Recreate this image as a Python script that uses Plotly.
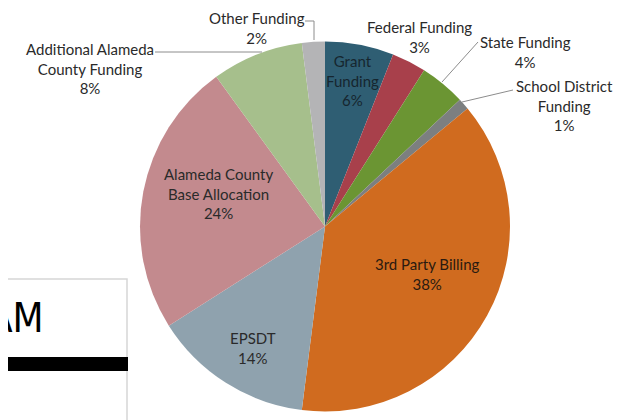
import plotly.graph_objects as go

# the page body has an 8px margin, so the figure is sized and offset for it
OFF = 8
W, H = 636 - OFF, 420 - OFF

# funding sources, clockwise from 12 o'clock
sources = [
    "Grant<br>Funding",
    "Federal Funding",
    "State Funding",
    "School District<br>Funding",
    "3rd Party Billing",
    "EPSDT",
    "Alameda County<br>Base Allocation",
    "Additional Alameda<br>County Funding",
    "Other Funding",
]
shares = [6, 3, 4, 1, 38, 14, 24, 8, 2]
colors = ["#2f5e73", "#a8404b", "#6b9533", "#7c7f80", "#d06b1f",
          "#8fa2ae", "#c38a8e", "#a6bf8c", "#b4b4b6"]

# label centres in screen pixels (x, y of first line)
label_xy = [(352, 60), (419, 26), (525, 41), (564, 85), (427, 263),
            (253, 337), (218, 173), (90, 48), (257, 17)]
label_color = ["#16262f", "#2a2a2a", "#2a2a2a", "#2a2a2a", "#2a1a10",
               "#2a2a2a", "#2a2a2a", "#2a2a2a", "#2a2a2a"]


def px(x):
    return (x - OFF) / W


def py(y):
    return 1 - (y - OFF) / H


fig = go.Figure(go.Pie(
    labels=[s.replace("<br>", " ") for s in sources],
    values=shares,
    sort=False,
    direction="clockwise",
    rotation=0,
    marker=dict(colors=colors, line=dict(width=0)),
    textinfo="none",
    hoverinfo="label+percent",
    domain=dict(x=[px(140), px(510)], y=[py(413), py(40)]),
    showlegend=False,
))

annotations = []
for name, val, (x, y), c in zip(sources, shares, label_xy, label_color):
    annotations.append(dict(
        x=px(x), y=py(y - 10), xref="paper", yref="paper",
        xanchor="center", yanchor="top", showarrow=False,
        text=f"{name}<br>{val}%", align="center",
        font=dict(family="Lato, Open Sans, sans-serif", size=15, color=c),
    ))

# cut-off slide title fragment
annotations.append(dict(
    x=px(46), y=py(318), xref="paper", yref="paper",
    xanchor="right", yanchor="middle", showarrow=False, text="AM",
    font=dict(family="DejaVu Sans Condensed, Liberation Sans, sans-serif",
              size=40, color="#000000"),
))

line_style = dict(color="#8c8c8c", width=1)
shapes = [
    # slide text box
    dict(type="rect", xref="paper", yref="paper", x0=px(-5), x1=px(127),
         y0=py(425), y1=py(279), line=dict(color="#d6d6d6", width=1.5),
         fillcolor="rgba(255,255,255,0)", layer="above"),
    dict(type="rect", xref="paper", yref="paper", x0=px(-5), x1=px(128),
         y0=py(371), y1=py(357), line=dict(width=0), fillcolor="#000000",
         layer="above"),
    # leader lines
    dict(type="path", xref="paper", yref="paper",
         path=f"M {px(305)},{py(21)} L {px(314)},{py(21)} L {px(314)},{py(40)}",
         line=line_style),
    dict(type="line", xref="paper", yref="paper", x0=px(155), y0=py(52),
         x1=px(262), y1=py(52), line=line_style),
    dict(type="line", xref="paper", yref="paper", x0=px(442), y0=py(82),
         x1=px(478), y1=py(42), line=line_style),
    dict(type="line", xref="paper", yref="paper", x0=px(462), y0=py(102),
         x1=px(513), y1=py(90), line=line_style),
]

fig.update_layout(
    width=W, height=H,
    margin=dict(l=0, r=0, t=0, b=0),
    paper_bgcolor="#ffffff",
    plot_bgcolor="#ffffff",
    annotations=annotations,
    shapes=shapes,
)

fig.write_html("out.html")
